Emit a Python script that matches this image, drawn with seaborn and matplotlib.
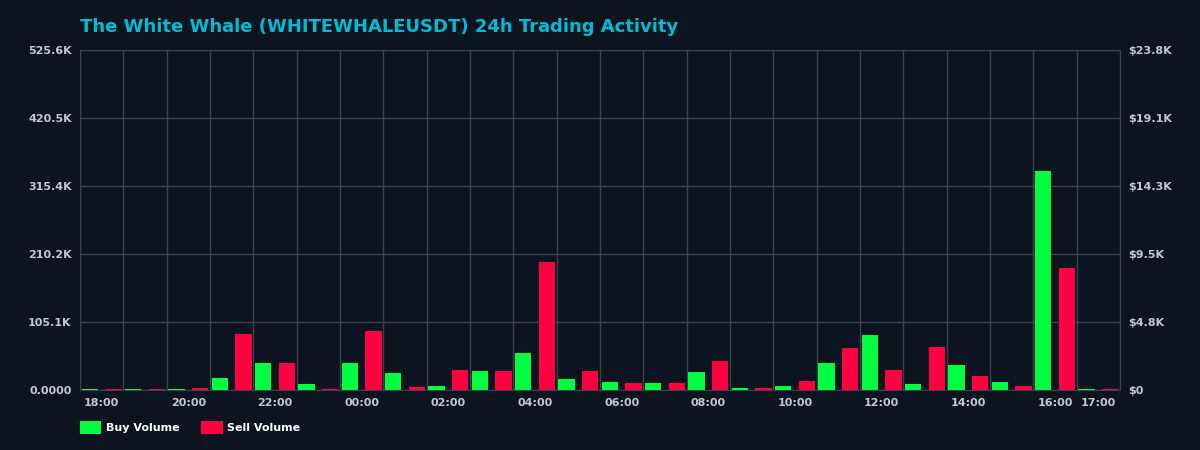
import numpy as np
import pandas as pd
import matplotlib
matplotlib.use("Agg")
import matplotlib.pyplot as plt
import seaborn as sns
from matplotlib.patches import Patch

# hourly buckets, 18:00 yesterday -> 17:00 today
hours = ["18:00", "19:00", "20:00", "21:00", "22:00", "23:00",
         "00:00", "01:00", "02:00", "03:00", "04:00", "05:00",
         "06:00", "07:00", "08:00", "09:00", "10:00", "11:00",
         "12:00", "13:00", "14:00", "15:00", "16:00", "17:00"]
buy_volume = [2000, 2000, 2000, 18000, 42500, 8700,
              42500, 25600, 6600, 29700, 57400, 17500,
              12800, 11300, 28300, 3600, 6600, 42200,
              85500, 9700, 39000, 12800, 339100, 2000]
sell_volume = [2000, 2000, 3200, 87000, 42500, 2000,
               91700, 5000, 31000, 29700, 198000, 29700,
               11300, 11300, 45300, 2400, 14400, 65400,
               31400, 67000, 22000, 6600, 188800, 2000]
avg_price = 0.04536  # USD per token, used for the quote axis

bg = "#0c151f"
grid_col = "#3a424c"
label_col = "#c4c8cc"
buy_col = "#00ff41"
sell_col = "#ff0040"

df = pd.DataFrame({
    "hour": hours * 2,
    "volume": buy_volume + sell_volume,
    "side": ["Buy Volume"] * len(hours) + ["Sell Volume"] * len(hours),
})

fig = plt.figure(figsize=(12, 4.5), dpi=100, facecolor=bg)
ax = fig.add_axes([80 / 1200, 60 / 450, 1040 / 1200, 340 / 450])
ax.set_facecolor(bg)

sns.barplot(data=df, x="hour", y="volume", hue="side", order=hours,
            palette={"Buy Volume": buy_col, "Sell Volume": sell_col},
            width=1.08, gap=0.3, dodge=True, saturation=1, legend=False,
            ax=ax, zorder=3)

ymax = max(buy_volume) * 1.55
ax.set_xlim(-0.5, len(hours) - 0.5)
ax.set_ylim(0, ymax)
yt = np.linspace(0, ymax, 6)
ax.set_yticks(yt)
ax.set_yticklabels(["0.0000"] + [f"{v / 1000:.1f}K" for v in yt[1:]])

xt = list(range(0, len(hours), 2)) + [len(hours) - 1]
ax.set_xticks(xt)
ax.set_xticklabels([hours[i] for i in xt])
ax.set_xticks(np.arange(-0.5, len(hours)), minor=True)

ax.set_xlabel("")
ax.set_ylabel("")
ax.grid(False)
ax.grid(axis="x", which="minor", color=grid_col, linewidth=1, zorder=0)
ax.grid(axis="y", which="major", color=grid_col, linewidth=1, zorder=0)
for s in ax.spines.values():
    s.set_color(grid_col)
ax.tick_params(which="both", length=0, colors=label_col, labelsize=8)
ax.tick_params(axis="x", pad=6)
ax.tick_params(axis="y", pad=6)
for t in ax.get_xticklabels() + ax.get_yticklabels():
    t.set_fontweight("bold")

# quote volume axis on the right
ax2 = ax.twinx()
qmax = ymax * avg_price
ax2.set_ylim(0, qmax)
qt = np.linspace(0, qmax, 6)
ax2.set_yticks(qt)
ax2.set_yticklabels(["$0"] + [f"${v / 1000:.1f}K" for v in qt[1:]])
ax2.tick_params(length=0, colors=label_col, labelsize=8, pad=6)
for t in ax2.get_yticklabels():
    t.set_fontweight("bold")
for s in ax2.spines.values():
    s.set_visible(False)

fig.text(80 / 1200, 1 - 26.5 / 450, "The White Whale (WHITEWHALEUSDT) 24h Trading Activity",
         color="#00bcd4", fontsize=13, fontweight="bold", va="center", ha="left")

handles = [Patch(facecolor=buy_col, label="Buy Volume"),
           Patch(facecolor=sell_col, label="Sell Volume")]
leg = fig.legend(handles=handles, loc="center left", ncol=2,
                 bbox_to_anchor=(70 / 1200, 1 - 427.5 / 450), frameon=False,
                 handlelength=1.9, handleheight=1.45, handletextpad=0.4,
                 columnspacing=2.0, prop={"size": 8, "weight": "bold"})
for t in leg.get_texts():
    t.set_color("white")

fig.savefig("out.png", dpi=100, facecolor=bg)
